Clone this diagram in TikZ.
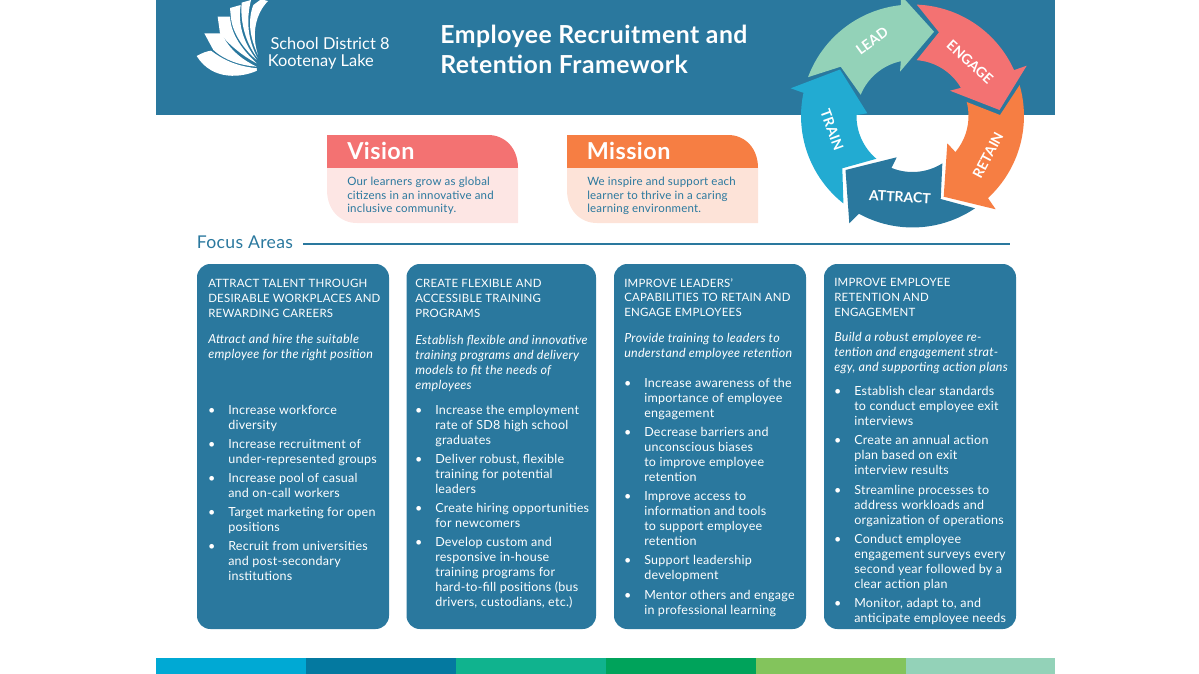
\documentclass[tikz,border=0pt]{standalone}
\usepackage{fontspec}
\setmainfont{Lato}[LetterSpace=2]
\usepackage{tikz}
\usetikzlibrary{positioning}

\definecolor{sdblue}{HTML}{2A789E}
\definecolor{sdcoral}{HTML}{F37272}
\definecolor{sdorange}{HTML}{F67E43}
\definecolor{sdmint}{HTML}{93D2B8}
\definecolor{sdsky}{HTML}{22ABD2}
\definecolor{sdpink}{HTML}{FDE6E4}
\definecolor{sdpeach}{HTML}{FDE3D8}
\definecolor{stripa}{HTML}{00A9D4}
\definecolor{stripb}{HTML}{0479A0}
\definecolor{stripc}{HTML}{10B38E}
\definecolor{stripd}{HTML}{00A35B}
\definecolor{stripe}{HTML}{83C45C}

\newcommand{\itemdot}{\leavevmode\llap{\textbullet\hspace{9.75pt}}}
\def\ringR{83.6pt}
\def\ringr{42pt}

\tikzset{
  cardbox/.style={fill=sdblue,rounded corners=10pt},
  cardtext/.style={text=white,align=left,inner sep=0pt,anchor=north west,font=\fontsize{9.4}{11.2}\selectfont},
  cardhead/.style={cardtext,font=\fontsize{8.6}{11.2}\selectfont},
  cardsub/.style={cardtext,font=\fontsize{9.4}{11.2}\itshape\selectfont},
  boxtitle/.style={text=white,inner sep=0pt,anchor=west,font=\fontsize{17.5}{20}\bfseries\selectfont},
  boxtext/.style={text=sdblue,align=left,inner sep=0pt,anchor=north west,font=\fontsize{8.6}{10.2}\selectfont},
  ringtext/.style={text=white,inner sep=0pt,font=\fontsize{10.5}{12}\addfontfeature{LetterSpace=0}\bfseries\selectfont},
}

\begin{document}
\begin{tikzpicture}[x=0.75pt,y=-0.75pt]
\useasboundingbox (0,0) rectangle (1199,674);

\begin{scope}
\clip (0,0) rectangle (1199,674);

% header
\fill[sdblue] (156,0) rectangle (1055,114.5);

% logo
\begin{scope}[shift={(156,0)},x=0.25pt,y=-0.25pt]
\fill[white] (122,168) .. controls (140,158) and (152,154) .. (165,152) .. controls (215,190) and (260,200) .. (303,205) .. controls (300,212) and (303,212) .. (303,212) .. controls (260,232) and (170,245) .. (122,168) -- cycle;
\fill[white] (145,100) -- (197,100) .. controls (220,150) and (260,180) .. (302,200) .. controls (250,196) and (205,180) .. (172,150) -- cycle;
\fill[white] (185,50) -- (222,50) .. controls (225,105) and (260,150) .. (302,190) .. controls (255,165) and (215,130) .. (192,100) -- cycle;
\fill[white] (222,24) -- (254,15) .. controls (245,80) and (265,130) .. (302,180) .. controls (265,150) and (230,100) .. (225,55) -- cycle;
\fill[white] (257,8) -- (285,0) .. controls (270,60) and (275,120) .. (305,175) .. controls (270,130) and (252,70) .. (257,8) -- cycle;
\fill[white] (292,15) -- (315,-2) -- (336,3) .. controls (300,40) and (285,100) .. (306,165) .. controls (280,110) and (275,60) .. (292,15) -- cycle;
\end{scope}

\node[text=white,inner sep=0pt,align=left,anchor=north west,font=\fontsize{12.3}{13}\addfontfeature{LetterSpace=0}\selectfont] (logotext) at (267.5,37) {\,School District 8\\Kootenay Lake};

\node[text=white,inner sep=0pt,align=left,anchor=north west,font=\fontsize{18.6}{22.5}\bfseries\selectfont] (title) at (440,25) {Employee Recruitment and\\Retention Framework};

% vision and mission
\fill[sdcoral] (327,135) -- (488,135) .. controls (505,135) and (518,148) .. (518,168) -- (327,168) -- cycle;
\fill[sdpink] (327,168) -- (518,168) -- (518,223) -- (357,223) .. controls (340,223) and (327,210) .. (327,190) -- cycle;
\node[boxtitle] (vision) at (347,151) {Vision};
\node[boxtext] (visiontext) at (347,177) {Our learners grow as global\\citizens in an innovative and\\inclusive community.};

\fill[sdorange] (567,135) -- (728,135) .. controls (745,135) and (758,148) .. (758,168) -- (567,168) -- cycle;
\fill[sdpeach] (567,168) -- (758,168) -- (758,223) -- (597,223) .. controls (580,223) and (567,210) .. (567,190) -- cycle;
\node[boxtitle] (mission) at (586.5,151) {Mission};
\node[boxtext] (missiontext) at (587,177) {We inspire and support each\\learner to thrive in a caring\\learning environment.};

% focus areas
\node[text=sdblue,inner sep=0pt,anchor=west,font=\fontsize{13.2}{15}\selectfont] (focus) at (196.5,242) {Focus Areas};
\coordinate (focusend) at (1010,244);
\draw[sdblue,line width=2.2pt] (focus.east |- focusend) ++(10,0) -- (focusend);

% arrows
\begin{scope}[shift={(912.5,116)},x=0.75pt,y=0.75pt]
\fill[sdmint] (159.6:\ringR) arc[start angle=159.6,end angle=96,radius=\ringR] -- (-11.8,121) -- (21.5,84.3) -- (-12.5,44.3) -- (102:\ringr) arc[start angle=102,end angle=157.7,radius=\ringr] -- (-71.8,49.3) -- cycle;
\fill[sdsky] (-72.5,46.5) -- (-121.8,27.7) -- (168:\ringR) arc[start angle=168,end angle=231.7,radius=\ringR] -- (-70.2,-52.3) -- (229.8:\ringr) arc[start angle=229.8,end angle=179,radius=\ringr] -- (-45.2,2.7) -- cycle;
\fill[sdblue] (-67,-54) -- (-15.8,-41.3) -- (248:\ringr) arc[start angle=248,end angle=302.2,radius=\ringr] -- (28.2,-83) -- (304.1:\ringR) arc[start angle=304.1,end angle=241.3,radius=\ringR] -- (-63.2,-107.3) -- cycle;
\fill[sdorange] (31.2,-80.7) -- (34.8,-27.3) -- (-40:\ringr) arc[start angle=-40,end angle=14.5,radius=\ringr] -- (87.5,1) -- (16.1:\ringR) arc[start angle=16.1,end angle=-47.4,radius=\ringR] -- (83.2,-93.3) -- cycle;
\fill[sdcoral] (87,6) -- (114.2,50.3) -- (24.3:\ringR) arc[start angle=24.3,end angle=87.8,radius=\ringR] -- (26.5,83.7) -- (85.8:\ringr) arc[start angle=85.8,end angle=30.2,radius=\ringr] -- (37.5,25.3) -- cycle;
\end{scope}
\node[ringtext,rotate=36] (lead) at (872,41) {LEAD};
\node[ringtext,rotate=-42] (engage) at (970,62) {ENGAGE};
\node[ringtext,rotate=62] (retain) at (988,155) {RETAIN};
\node[ringtext,rotate=-3] (attract) at (900,197) {ATTRACT};
\node[ringtext,rotate=-70] (train) at (832,130) {TRAIN};

% cards
\fill[cardbox] (197,264) rectangle (389,629);
\fill[cardbox] (406.5,264) rectangle (596,629);
\fill[cardbox] (614,264) rectangle (806,629);
\fill[cardbox] (824,264) rectangle (1016,629);

\node[cardhead] (attracthead) at (208,279) {ATTRACT TALENT THROUGH\\DESIRABLE WORKPLACES AND\\REWARDING CAREERS};
\node[cardsub] (attractsub) at (208,334) {Attract and hire the suitable\\employee for the right position};
\node[cardtext] (attracta) at (228,405) {\itemdot Increase workforce\\diversity};
\node[cardtext] (attractb) at (228,439) {\itemdot Increase recruitment of\\under-represented groups};
\node[cardtext] (attractc) at (228,473) {\itemdot Increase pool of casual\\and on-call workers};
\node[cardtext] (attractd) at (228,507) {\itemdot Target marketing for open\\positions};
\node[cardtext] (attracte) at (228,541) {\itemdot Recruit from universities\\and post-secondary\\institutions};

\node[cardhead] (trainhead) at (415,279) {CREATE FLEXIBLE AND\\ACCESSIBLE TRAINING\\PROGRAMS};
\node[cardsub] (trainsub) at (415,335) {Establish flexible and innovative\\training programs and delivery\\models to fit the needs of\\employees};
\node[cardtext] (traina) at (435,405) {\itemdot Increase the employment\\rate of SD8 high school\\graduates};
\node[cardtext] (trainb) at (435,454) {\itemdot Deliver robust, flexible\\training for potential\\leaders};
\node[cardtext] (trainc) at (435,503) {\itemdot Create hiring opportunities\\for newcomers};
\node[cardtext] (traind) at (435,537) {\itemdot Develop custom and\\responsive in-house\\training programs for\\hard-to-fill positions (bus\\drivers, custodians, etc.)};

\node[cardhead] (leadhead) at (624,278) {IMPROVE LEADERS’\\CAPABILITIES TO RETAIN AND\\ENGAGE EMPLOYEES};
\node[cardsub] (leadsub) at (624,333) {Provide training to leaders to\\understand employee retention};
\node[cardtext] (leada) at (644,378) {\itemdot Increase awareness of the\\importance of employee\\engagement};
\node[cardtext] (leadb) at (644,427) {\itemdot Decrease barriers and\\unconscious biases\\to improve employee\\retention};
\node[cardtext] (leadc) at (644,491) {\itemdot Improve access to\\information and tools\\to support employee\\retention};
\node[cardtext] (leadd) at (644,555) {\itemdot Support leadership\\development};
\node[cardtext] (leade) at (644,590) {\itemdot Mentor others and engage\\in professional learning};

\node[cardhead] (keephead) at (834,278) {IMPROVE EMPLOYEE\\RETENTION AND\\ENGAGEMENT};
\node[cardsub] (keepsub) at (834,332) {Build a robust employee re-\\tention and engagement strat-\\egy, and supporting action plans};
\node[cardtext] (keepa) at (854,386) {\itemdot Establish clear standards\\to conduct employee exit\\interviews};
\node[cardtext] (keepb) at (854,435) {\itemdot Create an annual action\\plan based on exit\\interview results};
\node[cardtext] (keepc) at (854,485) {\itemdot Streamline processes to\\address workloads and\\organization of operations};
\node[cardtext] (keepd) at (854,534) {\itemdot Conduct employee\\engagement surveys every\\second year followed by a\\clear action plan};
\node[cardtext] (keepe) at (854,598) {\itemdot Monitor, adapt to, and\\anticipate employee needs};

% footer
\fill[stripa] (156,658) rectangle (306,674);
\fill[stripb] (306,658) rectangle (456,674);
\fill[stripc] (456,658) rectangle (606,674);
\fill[stripd] (606,658) rectangle (756,674);
\fill[stripe] (756,658) rectangle (906,674);
\fill[sdmint] (906,658) rectangle (1055,674);
\end{scope}
\end{tikzpicture}
\end{document}
